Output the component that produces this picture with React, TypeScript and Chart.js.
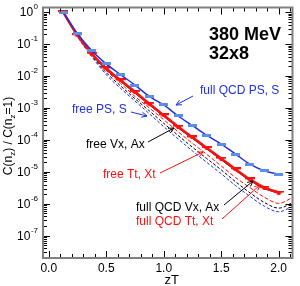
import React, { useEffect, useRef } from "react";
import { Chart, registerables } from "chart.js";

Chart.register(...registerables);

// zT of lattice points n_z/8
const latticeZ = [0.125, 0.25, 0.375, 0.5, 0.625, 0.75, 0.875, 1.0, 1.125, 1.25, 1.375, 1.5, 1.625, 1.75, 1.875, 2.0];
// free curves sampled a bit beyond
const freeZ = [0.125, 0.25, 0.375, 0.5, 0.625, 0.75, 0.875, 1.0, 1.125, 1.25, 1.375, 1.5, 1.625, 1.75, 1.875, 2.0, 2.125];

const fullPS = [1, 0.21, 0.062, 0.024, 0.011, 0.0052, 0.0023, 1.24e-3, 5.6e-4, 2.8e-4, 1.38e-4, 7.4e-5, 3.6e-5, 1.73e-5, 1.07e-5, 8.5e-6];
const fullTt = [1, 0.19, 0.05, 0.0174, 0.0074, 0.0032, 0.00135, 5.9e-4, 2.6e-4, 1.2e-4, 5.6e-5, 2.6e-5, 1.2e-5, 5.8e-6, 3.2e-6, 2.25e-6];
const fullVx = [1, 0.185, 0.048, 0.0165, 0.007, 0.003, 0.00128, 5.6e-4, 2.48e-4, 1.14e-4, 5.3e-5, 2.45e-5, 1.13e-5, 5.5e-6, 3.05e-6, 2.15e-6];

const freeTt = [1, 0.18, 0.046, 0.0148, 0.0059, 0.0023, 1.0e-3, 4.3e-4, 1.8e-4, 7.8e-5, 3.5e-5, 1.53e-5, 6.6e-6, 3.2e-6, 1.6e-6, 1.03e-6, 1.6e-6];
const freeVx = [1, 0.175, 0.043, 0.0128, 0.0049, 0.00195, 8.1e-4, 3.3e-4, 1.38e-4, 5.9e-5, 2.6e-5, 1.15e-5, 4.9e-6, 2.2e-6, 1.1e-6, 7.3e-7, 1.1e-6];
const freePS = [1, 0.17, 0.04, 0.011, 0.0041, 0.00165, 6.6e-4, 2.6e-4, 1.07e-4, 4.5e-5, 1.96e-5, 8.7e-6, 3.7e-6, 1.7e-6, 8.4e-7, 5.6e-7, 8.4e-7];

const xTickLabels = ["0.0", "0.5", "1.0", "1.5", "2.0"];
const yDecades = [0, -1, -2, -3, -4, -5, -6, -7];

const FONT = "'Liberation Sans', Arial, sans-serif";
const BLUE = "#1f2fe6";
const RED = "#ff1010";

function pts(xs: number[], ys: number[]) {
  return xs.map((x, i) => ({ x, y: ys[i] }));
}

function makeMarker(w: number, h: number, fill: string, tri: boolean) {
  const c = document.createElement("canvas");
  c.width = w;
  c.height = h;
  const g = c.getContext("2d")!;
  g.fillStyle = fill;
  if (tri) {
    g.beginPath();
    g.moveTo(0, 0);
    g.lineTo(w, 0);
    g.lineTo(w / 2 + 1, h);
    g.lineTo(w / 2 - 1, h);
    g.closePath();
    g.fill();
    g.fillRect(0, 0, w, 2);
  } else {
    g.fillRect(0, 0, w, h);
  }
  return c;
}

function arrow(ctx: CanvasRenderingContext2D, x1: number, y1: number, x2: number, y2: number, color: string) {
  ctx.save();
  ctx.strokeStyle = color;
  ctx.lineWidth = 1;
  ctx.beginPath();
  ctx.moveTo(x1, y1);
  ctx.lineTo(x2, y2);
  const a = Math.atan2(y2 - y1, x2 - x1);
  const L = 6;
  ctx.moveTo(x2 - L * Math.cos(a - 0.45), y2 - L * Math.sin(a - 0.45));
  ctx.lineTo(x2, y2);
  ctx.lineTo(x2 - L * Math.cos(a + 0.45), y2 - L * Math.sin(a + 0.45));
  ctx.stroke();
  ctx.restore();
}

const framePlugin = {
  id: "framePlugin",
  afterDraw(chart: any) {
    const ctx: CanvasRenderingContext2D = chart.ctx;
    const { left, right, top, bottom } = chart.chartArea;
    const xs = chart.scales.x;
    const ys = chart.scales.y;
    ctx.save();
    // ticks
    ctx.strokeStyle = "#000";
    ctx.lineWidth = 1;
    ctx.beginPath();
    for (let d = -8; d <= 0; d++) {
      for (let m = 1; m <= 9; m++) {
        const v = m * Math.pow(10, d);
        if (v < ys.min || v > ys.max) continue;
        const py = Math.round(ys.getPixelForValue(v)) + 0.5;
        const len = m === 1 ? 7 : 4;
        ctx.moveTo(left, py);
        ctx.lineTo(left + len, py);
        ctx.moveTo(right, py);
        ctx.lineTo(right - len, py);
      }
    }
    for (let i = 0; i <= 21; i++) {
      const v = i * 0.1;
      if (v < xs.min || v > xs.max) continue;
      const px = Math.round(xs.getPixelForValue(v)) + 0.5;
      const len = i % 5 === 0 ? 7 : 4;
      ctx.moveTo(px, bottom);
      ctx.lineTo(px, bottom - len);
      ctx.moveTo(px, top);
      ctx.lineTo(px, top + len);
    }
    ctx.stroke();
    // frame
    ctx.strokeStyle = "#808080";
    ctx.lineWidth = 2;
    ctx.strokeRect(left, top, right - left, bottom - top);

    // x tick labels
    ctx.fillStyle = "#000";
    ctx.font = `12px ${FONT}`;
    ctx.textAlign = "center";
    ctx.textBaseline = "middle";
    xTickLabels.forEach((t) => {
      ctx.fillText(t, xs.getPixelForValue(parseFloat(t)), 269);
    });
    ctx.font = `13px ${FONT}`;
    ctx.fillText("zT", (left + right) / 2 + 4, 280);

    // y tick labels 10^d
    yDecades.forEach((d) => {
      const py = ys.getPixelForValue(Math.pow(10, d));
      const ex = d === 0 ? "0" : String(d);
      ctx.font = `8px ${FONT}`;
      const ew = ctx.measureText(ex).width;
      ctx.textAlign = "left";
      ctx.textBaseline = "middle";
      const exX = 38 - ew;
      ctx.fillText(ex, exX, py - 5);
      ctx.font = `12px ${FONT}`;
      ctx.textAlign = "right";
      ctx.fillText("10", exX - 0.5, py + 1);
    });

    // y title: C(n_z) / C(n_z=1)
    ctx.save();
    ctx.translate(9, 136);
    ctx.rotate(-Math.PI / 2);
    const parts: [string, boolean][] = [["C(n", false], ["z", true], [") / C(n", false], ["z", true], ["=1)", false]];
    let tw = 0;
    parts.forEach(([s, sub]) => {
      ctx.font = sub ? `8px ${FONT}` : `12px ${FONT}`;
      tw += ctx.measureText(s).width;
    });
    let cx = -tw / 2;
    ctx.textAlign = "left";
    ctx.textBaseline = "middle";
    parts.forEach(([s, sub]) => {
      ctx.font = sub ? `8px ${FONT}` : `12px ${FONT}`;
      ctx.fillText(s, cx, sub ? 4 : 0);
      cx += ctx.measureText(s).width;
    });
    ctx.restore();

    // annotations
    ctx.textAlign = "left";
    ctx.textBaseline = "middle";
    ctx.font = `bold 18px ${FONT}`;
    ctx.fillStyle = "#000";
    ctx.fillText("380 MeV", 209, 35);
    ctx.fillText("32x8", 209, 54);

    ctx.font = `12px ${FONT}`;
    ctx.fillStyle = BLUE;
    ctx.fillText("full QCD PS, S", 200, 91);
    ctx.fillText("free PS, S", 72, 110);
    ctx.fillStyle = "#000";
    ctx.fillText("free Vx, Ax", 86, 145);
    ctx.fillText("full QCD Vx, Ax", 136, 208);
    ctx.fillStyle = RED;
    ctx.fillText("free Tt, Xt", 103, 175);
    ctx.fillText("full QCD Tt, Xt", 136, 222);

    arrow(ctx, 193, 96, 176, 105, BLUE);
    arrow(ctx, 131, 112, 147, 116, BLUE);
    arrow(ctx, 148, 142, 174, 128, "#000");
    arrow(ctx, 160, 173, 203, 152, RED);
    arrow(ctx, 224, 205, 253, 181, "#000");
    arrow(ctx, 222, 219, 260, 185, RED);

    ctx.restore();
  },
};

export default function App() {
  const ref = useRef<HTMLCanvasElement | null>(null);
  useEffect(() => {
    if (!ref.current) return;
    const blueMark = makeMarker(9, 3, "#5a8ee8", false);
    const redMark = makeMarker(10, 4, RED, true);
    const chart = new Chart(ref.current, {
      type: "line",
      data: {
        // first dataset is drawn on top
        datasets: [
          { data: pts(latticeZ, fullPS), borderColor: BLUE, borderWidth: 1.5, pointStyle: blueMark as any, pointRadius: 5, cubicInterpolationMode: "monotone" },
          { data: pts(latticeZ, fullTt), borderColor: RED, borderWidth: 2.5, pointStyle: redMark as any, pointRadius: 5, cubicInterpolationMode: "monotone" },
          { data: pts(latticeZ, fullVx), borderColor: "#000", borderWidth: 1.5, pointRadius: 0, cubicInterpolationMode: "monotone" },
          { data: pts(freeZ, freeTt), borderColor: RED, borderWidth: 1, borderDash: [4, 2], pointRadius: 0, cubicInterpolationMode: "monotone" },
          { data: pts(freeZ, freeVx), borderColor: "#000", borderWidth: 1, borderDash: [3, 2], pointRadius: 0, cubicInterpolationMode: "monotone" },
          { data: pts(freeZ, freePS), borderColor: BLUE, borderWidth: 1, borderDash: [3, 2], pointRadius: 0, cubicInterpolationMode: "monotone" },
        ] as any,
      },
      options: {
        animation: false,
        responsive: true,
        maintainAspectRatio: false,
        events: [],
        layout: { padding: { top: 4, right: 5, left: 0, bottom: 0 } },
        plugins: { legend: { display: false }, tooltip: { enabled: false } },
        scales: {
          x: {
            type: "linear",
            min: -0.05,
            max: 2.12,
            grid: { display: false },
            border: { display: false },
            ticks: { display: false },
            afterFit: (s: any) => { s.height = 28; },
          },
          y: {
            type: "logarithmic",
            min: 2e-8,
            max: 1.4,
            grid: { display: false },
            border: { display: false },
            ticks: { display: false },
            afterFit: (s: any) => { s.width = 43; },
          },
        },
      } as any,
      plugins: [framePlugin],
    });
    return () => chart.destroy();
  }, []);
  return (
    <div style={{ position: "fixed", left: 0, top: 0, width: 300, height: 286, background: "#fff" }}>
      <canvas ref={ref} />
    </div>
  );
}
